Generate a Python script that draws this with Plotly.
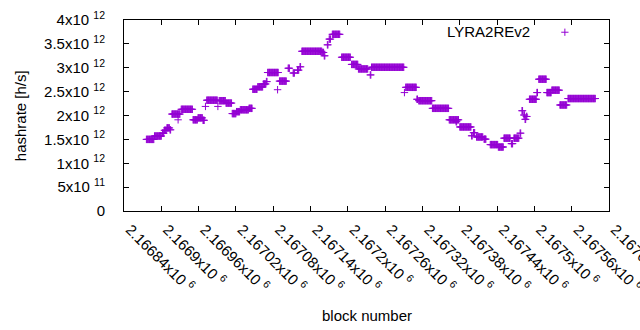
import numpy as np
import plotly.graph_objects as go

# Data: runs of consecutive blocks sharing the same hashrate estimate
run_start = [2166876, 2166889, 2166902, 2166905, 2166909, 2166914, 2166917, 2166927, 2166932, 2166951,
             2166959, 2166967, 2166971, 2166973, 2166991, 2166993, 2167004, 2167014, 2167021, 2167027,
             2167041, 2167047, 2167055, 2167064, 2167069, 2167071, 2167087, 2167090, 2167104, 2167112,
             2167119, 2167123, 2167126, 2167159, 2167162, 2167167, 2167170, 2167175, 2167190, 2167206,
             2167217, 2167236, 2167238, 2167291, 2167293, 2167311, 2167314, 2167336, 2167363, 2167374,
             2167380, 2167399, 2167402, 2167407, 2167419, 2167429, 2167442, 2167451, 2167463, 2167467,
             2167477, 2167480, 2167483, 2167485, 2167487, 2167492, 2167504, 2167507, 2167520, 2167528,
             2167541, 2167554]
run_end = [2166888, 2166900, 2166904, 2166908, 2166913, 2166915, 2166930, 2166927, 2166950, 2166958,
           2166966, 2166969, 2166971, 2166990, 2166991, 2167003, 2167013, 2167020, 2167026, 2167040,
           2167046, 2167054, 2167063, 2167068, 2167070, 2167088, 2167087, 2167101, 2167106, 2167114,
           2167121, 2167124, 2167158, 2167161, 2167163, 2167168, 2167172, 2167187, 2167204, 2167216,
           2167232, 2167237, 2167290, 2167291, 2167310, 2167312, 2167335, 2167362, 2167378, 2167375,
           2167398, 2167400, 2167404, 2167417, 2167422, 2167441, 2167450, 2167461, 2167465, 2167475,
           2167478, 2167481, 2167484, 2167486, 2167488, 2167503, 2167505, 2167519, 2167527, 2167540,
           2167552, 2167598]
run_value = [1.50e12, 1.57e12, 1.63e12, 1.69e12, 1.74e12, 1.70e12, 2.03e12, 1.91e12, 2.13e12, 1.91e12,
             1.95e12, 1.90e12, 2.19e12, 2.32e12, 2.19e12, 2.31e12, 2.26e12, 2.04e12, 2.08e12, 2.12e12,
             2.15e12, 2.55e12, 2.60e12, 2.66e12, 2.71e12, 2.90e12, 2.54e12, 2.72e12, 2.99e12, 2.89e12,
             2.95e12, 3.02e12, 3.345e12, 3.32e12, 3.25e12, 3.48e12, 3.60e12, 3.70e12, 3.22e12, 3.07e12,
             2.975e12, 2.85e12, 3.01e12, 2.48e12, 2.59e12, 2.34e12, 2.31e12, 2.15e12, 1.91e12, 1.87e12,
             1.76e12, 1.575e12, 1.64e12, 1.55e12, 1.505e12, 1.39e12, 1.34e12, 1.525e12, 1.41e12, 1.525e12,
             1.63e12, 2.10e12, 2.01e12, 1.92e12, 1.98e12, 2.34e12, 2.48e12, 2.76e12, 2.48e12, 2.53e12,
             2.22e12, 2.355e12]

x_tickvals = [2166840, 2166900, 2166960, 2167020, 2167080, 2167140, 2167200,
              2167260, 2167320, 2167380, 2167440, 2167500, 2167560, 2167620]
x_ticklabels = ["2.16684", "2.1669", "2.16696", "2.16702", "2.16708", "2.16714", "2.1672",
                "2.16726", "2.16732", "2.16738", "2.16744", "2.1675", "2.16756", "2.16762"]
y_tickvals = [0, 5e11, 1e12, 1.5e12, 2e12, 2.5e12, 3e12, 3.5e12, 4e12]
y_ticklabels = ["0", "5x10 <sup>11</sup>", "1x10 <sup>12</sup>", "1.5x10 <sup>12</sup>", "2x10 <sup>12</sup>",
                "2.5x10 <sup>12</sup>", "3x10 <sup>12</sup>", "3.5x10 <sup>12</sup>", "4x10 <sup>12</sup>"]
series_name = "LYRA2REv2"

blocks = []
values = []
for s, e, v in zip(run_start, run_end, run_value):
    for b in range(s, e + 1):
        blocks.append(b)
        values.append(v)

COLOR = "#9400d3"
FONT = "Liberation Sans, Arial, sans-serif"

fig = go.Figure()
fig.add_trace(go.Scatter(
    x=blocks, y=values, mode="markers", name=series_name, showlegend=False,
    marker=dict(symbol="cross-thin", size=5.3, line=dict(color=COLOR, width=1), color=COLOR),
))

axis_common = dict(
    showline=True, linecolor="black", linewidth=1, mirror="allticks",
    ticks="inside", ticklen=5, tickcolor="black", tickwidth=1,
    showgrid=False, zeroline=False, automargin=False, ticklabeloverflow="allow",
    tickfont=dict(family=FONT, size=15, color="black"),
)

fig.update_xaxes(range=[2166840, 2167620], tickvals=x_tickvals,
                 ticktext=[t + "x10 <sup>6</sup>" for t in x_ticklabels],
                 tickangle=45, ticklabelstandoff=3, ticklabelshift=6, **axis_common)
fig.update_yaxes(range=[0, 4e12], tickvals=y_tickvals, ticktext=y_ticklabels,
                 ticklabelstandoff=15, **axis_common)

fig.update_layout(
    width=640, height=330,
    margin=dict(l=124, r=31, t=20, b=119),
    paper_bgcolor="white", plot_bgcolor="white",
    font=dict(family=FONT, size=15, color="black"),
    annotations=[
        dict(text="block number", xref="paper", yref="paper", x=0.5, y=-0.545,
             xanchor="center", yanchor="middle", showarrow=False,
             font=dict(family=FONT, size=15, color="black")),
        dict(text="hashrate [h/s]", xref="paper", yref="paper", x=-0.213, y=0.5,
             xanchor="center", yanchor="middle", textangle=-90, showarrow=False,
             font=dict(family=FONT, size=15, color="black")),
        dict(text=series_name, xref="paper", yref="paper", x=0.842, y=0.939,
             xanchor="right", yanchor="middle", showarrow=False,
             font=dict(family=FONT, size=15, color="black")),
    ],
    shapes=[
        dict(type="line", xref="paper", yref="paper", x0=0.9015, x1=0.9165, y0=0.936, y1=0.936,
             line=dict(color=COLOR, width=1)),
        dict(type="line", xref="paper", yref="paper", x0=0.909, x1=0.909, y0=0.917, y1=0.955,
             line=dict(color=COLOR, width=1)),
    ],
)

fig.write_html("out.html", config={"displayModeBar": False},
               post_script="document.body.style.margin='0';document.body.style.overflow='hidden';")
